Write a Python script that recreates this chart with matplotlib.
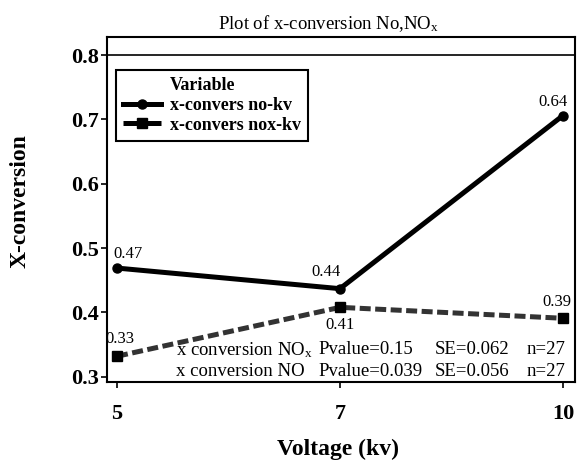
import matplotlib
matplotlib.use("Agg")
import matplotlib.pyplot as plt
from matplotlib.lines import Line2D

plt.rcParams['font.family'] = ['Liberation Serif', 'DejaVu Serif']
plt.rcParams['mathtext.fontset'] = 'stix'

voltages = ['5', '7', '10']
no_kv = [0.469, 0.437, 0.706]
nox_kv = [0.332, 0.408, 0.391]
no_kv_labels = ['0.47', '0.44', '0.64']
nox_kv_labels = ['0.33', '0.41', '0.39']
y_ticks = [0.3, 0.4, 0.5, 0.6, 0.7, 0.8]

stats_rows = [
    ['x conversion NO$_\\mathregular{x}$', 'Pvalue=0.15', 'SE=0.062', 'n=27'],
    ['x conversion NO', 'Pvalue=0.039', 'SE=0.056', 'n=27'],
]

W, H = 583, 461
fig = plt.figure(figsize=(W / 100, H / 100), dpi=100)
ax = fig.add_axes([107 / W, 1 - 382 / H, (575 - 107) / W, (382 - 37) / H])

x = list(range(len(voltages)))
ax.plot(x, no_kv, color='black', lw=3.6, marker='o', ms=6.5,
        solid_joinstyle='round', label='x-convers no-kv')
ax.plot(x, nox_kv, color='#333333', lw=3.6, marker='s', ms=6.5,
        mfc='black', mec='black', dashes=(2.2, 0.9), label='x-convers nox-kv')

# data labels (offsets in pixels)
offs_no = [(11, 14), (-14, 17), (-10, 14)]
offs_nox = [(3, 17), (0, -18), (-6, 16)]
for i in x:
    ax.annotate(no_kv_labels[i], (i, no_kv[i]), xytext=offs_no[i],
                textcoords='offset pixels', ha='center', va='center', fontsize=12)
    ax.annotate(nox_kv_labels[i], (i, nox_kv[i]), xytext=offs_nox[i],
                textcoords='offset pixels', ha='center', va='center', fontsize=12)

ax.axhline(0.8, color='black', lw=1.2)

ax.set_xlim(-0.045, 2.054)
ax.set_ylim(0.292, 0.828)
ax.set_xticks(x)
ax.set_xticklabels(voltages, fontsize=16, fontweight='bold')
ax.set_yticks(y_ticks)
ax.set_yticklabels([f'{v:.1f}' for v in y_ticks], fontsize=16, fontweight='bold')
ax.tick_params(direction='out', length=4, width=1.2, pad=2)
ax.tick_params(axis='x', pad=12)
for s in ax.spines.values():
    s.set_linewidth(1.5)

fig.text(338 / W, 1 - 449 / H, 'Voltage (kv)', fontsize=17,
         fontweight='bold', ha='center', va='center')
fig.text(20 / W, 1 - 201 / H, 'X-conversion', rotation=90, fontsize=17,
         fontweight='bold', ha='center', va='center')
fig.text(329 / W, 1 - 24 / H, 'Plot of x-conversion No,NO$_\\mathregular{x}$',
         fontsize=13.5, ha='center', va='center')

# legend with a left-aligned "Variable" header row
header = Line2D([], [], color='none')
h1, h2 = ax.get_legend_handles_labels()[0]
leg = ax.legend([header, h1, h2], ['Variable', 'x-convers no-kv', 'x-convers nox-kv'],
                loc='upper left', bbox_to_anchor=(0.019, 0.904),
                prop={'weight': 'bold', 'size': 13}, frameon=True, fancybox=False,
                edgecolor='black', framealpha=1, handlelength=2.1,
                handletextpad=0.5, labelspacing=0.15, borderpad=0.4,
                borderaxespad=0)
leg.get_frame().set_linewidth(1.5)
leg.get_lines()[2].set_dashes((100, 0))
leg.get_lines()[2].set_color('black')

# stats text block
col_x = [0.147, 0.451, 0.701, 0.897]
row_y = [0.093, 0.029]
for r, row in enumerate(stats_rows):
    for c, txt in enumerate(row):
        ax.text(col_x[c], row_y[r], txt, transform=ax.transAxes,
                fontsize=13.5, ha='left', va='center')

fig.savefig('out.png', dpi=100)
